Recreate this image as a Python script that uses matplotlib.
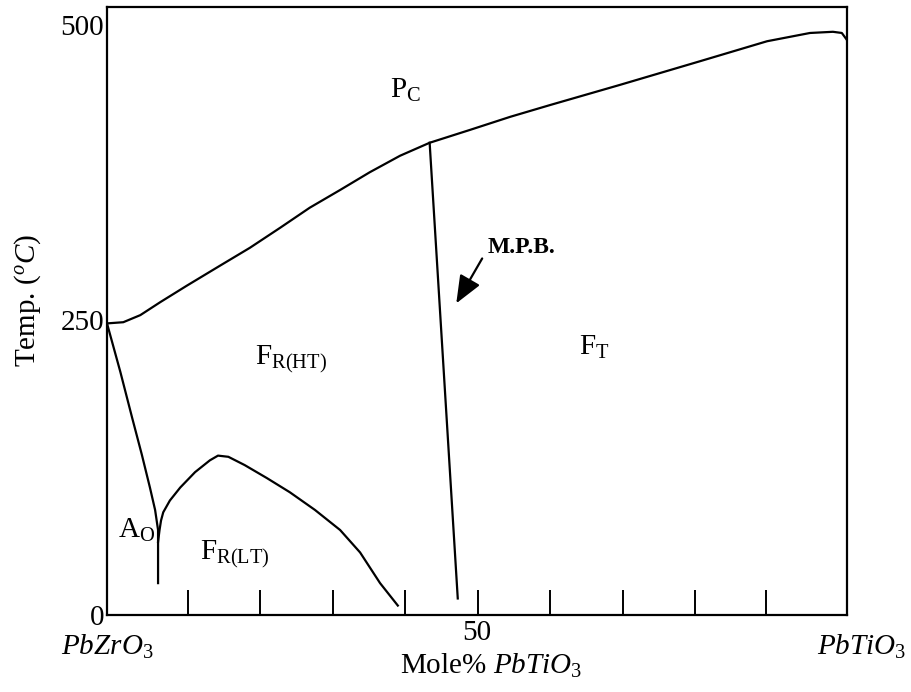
import matplotlib
matplotlib.use('Agg')
from matplotlib import pyplot as plt

plt.rcParams['font.family'] = ['Liberation Serif', 'DejaVu Serif']
plt.rcParams['mathtext.fontset'] = 'custom'
plt.rcParams['mathtext.rm'] = 'Liberation Serif'
plt.rcParams['mathtext.it'] = 'Liberation Serif:italic'
plt.rcParams['mathtext.bf'] = 'Liberation Serif:bold'

# Curie line (upper boundary of the ferroelectric phases)
curie_x = [0, 2.2, 4.5, 7.2, 10.8, 15.3, 19.3, 23.4, 27.4, 31.5, 35.5, 39.6, 43.6,
           49.1, 54.5, 59.9, 69.3, 80.1, 89.2, 95.0, 98.1, 99.3, 100, 100.1]
curie_t = [247, 248, 254, 265, 279, 296, 311, 328, 345, 360, 375, 389, 400,
           411, 422, 432, 449, 469, 486, 493, 494, 493, 487, 480]

# antiferroelectric orthorhombic boundary
ao_x = [0, 1.8, 3.4, 4.7, 5.8, 6.5, 6.9, 6.9]
ao_t = [247, 206, 167, 136, 108, 89, 72, 27]

# low temperature rhombohedral boundary
rlt_x = [6.9, 7.1, 7.3, 7.6, 8.5, 9.9, 11.9, 13.9, 15.0, 16.4, 18.6, 21.6, 24.7,
         28.1, 31.5, 34.2, 36.9, 39.3]
rlt_t = [62, 72, 80, 87, 97, 108, 121, 131, 135, 134, 127, 116, 104,
         89, 72, 53, 27, 8]

# morphotropic phase boundary
mpb_x = [43.6, 47.4]
mpb_t = [400, 14]

tick_pos = [10.9, 20.7, 30.5, 40.3, 50.1, 59.9, 69.7, 79.5, 89.1]

fig = plt.figure(figsize=(9.12, 6.92), dpi=100)
ax = fig.add_axes([107/912, 77/692, 740/912, 608/692])

lw = 1.6
ax.plot(curie_x, curie_t, color='black', lw=lw)
ax.plot(ao_x, ao_t, color='black', lw=lw)
ax.plot(rlt_x, rlt_t, color='black', lw=lw)
ax.plot(mpb_x, mpb_t, color='black', lw=lw)

ax.set_xlim(0, 100)
ax.set_ylim(0, 515)
for s in ax.spines.values():
    s.set_linewidth(1.6)

ax.set_xticks(tick_pos)
ax.set_xticklabels([])
ax.tick_params(axis='x', direction='in', length=18, width=1.4)
ax.set_yticks([0, 250, 500])
ax.set_yticklabels(['0', '250', '500'], fontsize=21)
ax.tick_params(axis='y', length=0, pad=2)

# phase labels
fs = 21
ax.text(38.2, 438, r'P$_{\mathrm{C}}$', fontsize=fs, ha='left', va='baseline')
ax.text(20.0, 212, r'F$_{\mathrm{R(HT)}}$', fontsize=fs, ha='left', va='baseline')
ax.text(63.8, 220, r'F$_{\mathrm{T}}$', fontsize=fs, ha='left', va='baseline')
ax.text(1.5, 65, r'A$_{\mathrm{O}}$', fontsize=fs, ha='left', va='baseline')
ax.text(12.6, 47, r'F$_{\mathrm{R(LT)}}$', fontsize=fs, ha='left', va='baseline')
ax.text(51.4, 307, 'M.P.B.', fontsize=17, fontweight='bold', ha='left', va='baseline')
ax.annotate('', xy=(47.2, 264), xytext=(50.7, 302),
            arrowprops=dict(arrowstyle='-|>,head_length=1.7,head_width=0.7',
                            color='black', lw=1.6, shrinkA=0, shrinkB=0))

# axis texts
ax.text(50, -15, '50', fontsize=fs, ha='center', va='center', clip_on=False)
ax.text(0, -27, r'$PbZrO_3$', fontsize=fs, ha='center', va='center', clip_on=False)
ax.text(102, -27, r'$PbTiO_3$', fontsize=fs, ha='center', va='center', clip_on=False)
ax.text(51.9, -43, r'Mole% $PbTiO_3$', fontsize=fs, ha='center', va='center', clip_on=False)
fig.text(28/912, 1 - 300/692, r'Temp. ($^{o}C$)', fontsize=fs, rotation=90,
         ha='center', va='center')

fig.savefig('out.png', dpi=100)
